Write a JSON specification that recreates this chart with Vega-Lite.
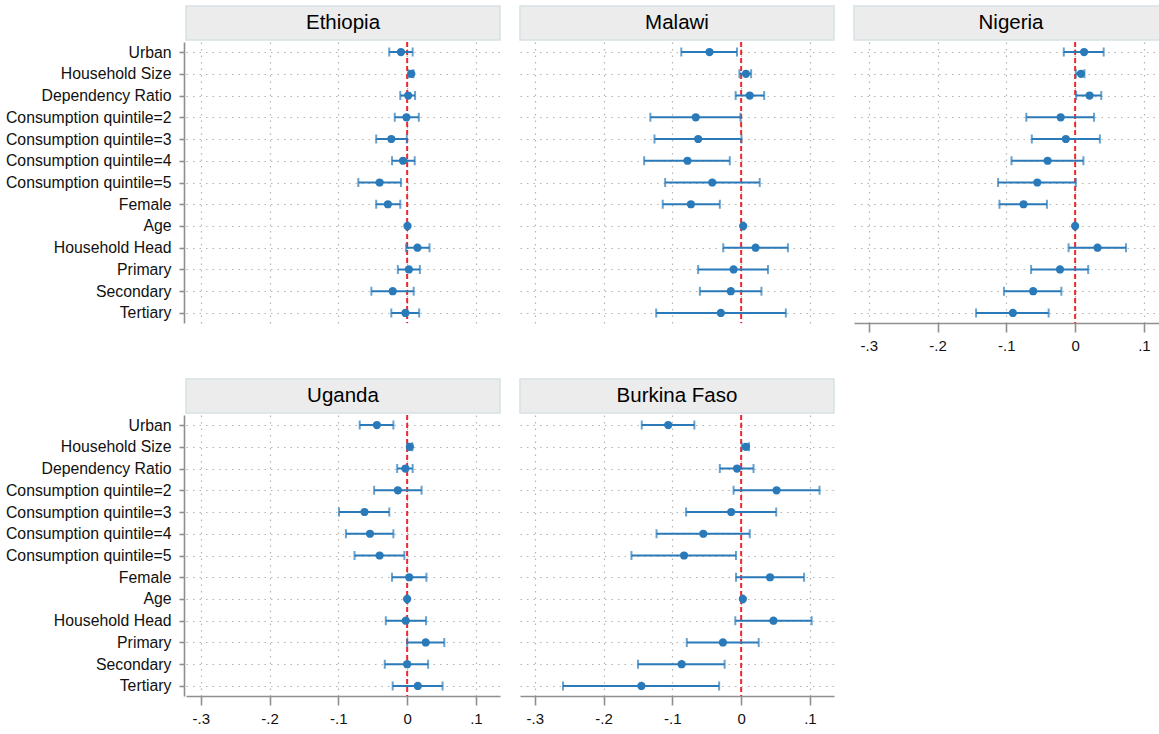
{
  "$schema": "https://vega.github.io/schema/vega-lite/v6.json",
  "background": "white",
  "padding": {"left": 5, "top": 5, "right": 0, "bottom": 0},
  "datasets": {
    "coefs": [
      {"country": "Ethiopia", "var": "Urban", "b": -0.009, "lo": -0.026, "hi": 0.008},
      {"country": "Ethiopia", "var": "Household Size", "b": 0.006, "lo": 0.002, "hi": 0.009},
      {"country": "Ethiopia", "var": "Dependency Ratio", "b": 0.0015, "lo": -0.010, "hi": 0.0115},
      {"country": "Ethiopia", "var": "Consumption quintile=2", "b": -0.001, "lo": -0.018, "hi": 0.017},
      {"country": "Ethiopia", "var": "Consumption quintile=3", "b": -0.023, "lo": -0.045, "hi": -0.0005},
      {"country": "Ethiopia", "var": "Consumption quintile=4", "b": -0.006, "lo": -0.022, "hi": 0.011},
      {"country": "Ethiopia", "var": "Consumption quintile=5", "b": -0.040, "lo": -0.071, "hi": -0.009},
      {"country": "Ethiopia", "var": "Female", "b": -0.028, "lo": -0.045, "hi": -0.010},
      {"country": "Ethiopia", "var": "Age", "b": 0.0005, "lo": -0.0005, "hi": 0.0015},
      {"country": "Ethiopia", "var": "Household Head", "b": 0.015, "lo": -0.0015, "hi": 0.0325},
      {"country": "Ethiopia", "var": "Primary", "b": 0.0025, "lo": -0.0135, "hi": 0.0185},
      {"country": "Ethiopia", "var": "Secondary", "b": -0.021, "lo": -0.052, "hi": 0.0095},
      {"country": "Ethiopia", "var": "Tertiary", "b": -0.0025, "lo": -0.023, "hi": 0.0175},
      {"country": "Malawi", "var": "Urban", "b": -0.046, "lo": -0.087, "hi": -0.006},
      {"country": "Malawi", "var": "Household Size", "b": 0.007, "lo": -0.0025, "hi": 0.0145},
      {"country": "Malawi", "var": "Dependency Ratio", "b": 0.0125, "lo": -0.008, "hi": 0.0335},
      {"country": "Malawi", "var": "Consumption quintile=2", "b": -0.066, "lo": -0.132, "hi": -0.001},
      {"country": "Malawi", "var": "Consumption quintile=3", "b": -0.0625, "lo": -0.126, "hi": 0.0005},
      {"country": "Malawi", "var": "Consumption quintile=4", "b": -0.078, "lo": -0.141, "hi": -0.0165},
      {"country": "Malawi", "var": "Consumption quintile=5", "b": -0.042, "lo": -0.1105, "hi": 0.027},
      {"country": "Malawi", "var": "Female", "b": -0.073, "lo": -0.114, "hi": -0.031},
      {"country": "Malawi", "var": "Age", "b": 0.003, "lo": 0.002, "hi": 0.004},
      {"country": "Malawi", "var": "Household Head", "b": 0.021, "lo": -0.026, "hi": 0.068},
      {"country": "Malawi", "var": "Primary", "b": -0.011, "lo": -0.0625, "hi": 0.039},
      {"country": "Malawi", "var": "Secondary", "b": -0.015, "lo": -0.060, "hi": 0.0295},
      {"country": "Malawi", "var": "Tertiary", "b": -0.0295, "lo": -0.1235, "hi": 0.065},
      {"country": "Nigeria", "var": "Urban", "b": 0.013, "lo": -0.0165, "hi": 0.0415},
      {"country": "Nigeria", "var": "Household Size", "b": 0.0085, "lo": 0.001, "hi": 0.0135},
      {"country": "Nigeria", "var": "Dependency Ratio", "b": 0.021, "lo": 0.0015, "hi": 0.038},
      {"country": "Nigeria", "var": "Consumption quintile=2", "b": -0.021, "lo": -0.071, "hi": 0.0275},
      {"country": "Nigeria", "var": "Consumption quintile=3", "b": -0.0135, "lo": -0.063, "hi": 0.036},
      {"country": "Nigeria", "var": "Consumption quintile=4", "b": -0.040, "lo": -0.0925, "hi": 0.012},
      {"country": "Nigeria", "var": "Consumption quintile=5", "b": -0.055, "lo": -0.112, "hi": 0.001},
      {"country": "Nigeria", "var": "Female", "b": -0.075, "lo": -0.110, "hi": -0.041},
      {"country": "Nigeria", "var": "Age", "b": 0.0, "lo": -0.001, "hi": 0.001},
      {"country": "Nigeria", "var": "Household Head", "b": 0.0325, "lo": -0.0095, "hi": 0.074},
      {"country": "Nigeria", "var": "Primary", "b": -0.022, "lo": -0.064, "hi": 0.019},
      {"country": "Nigeria", "var": "Secondary", "b": -0.061, "lo": -0.1035, "hi": -0.020},
      {"country": "Nigeria", "var": "Tertiary", "b": -0.0905, "lo": -0.144, "hi": -0.0385},
      {"country": "Uganda", "var": "Urban", "b": -0.044, "lo": -0.069, "hi": -0.020},
      {"country": "Uganda", "var": "Household Size", "b": 0.004, "lo": 0.0005, "hi": 0.0075},
      {"country": "Uganda", "var": "Dependency Ratio", "b": -0.0025, "lo": -0.0145, "hi": 0.008},
      {"country": "Uganda", "var": "Consumption quintile=2", "b": -0.0135, "lo": -0.048, "hi": 0.021},
      {"country": "Uganda", "var": "Consumption quintile=3", "b": -0.062, "lo": -0.099, "hi": -0.026},
      {"country": "Uganda", "var": "Consumption quintile=4", "b": -0.054, "lo": -0.089, "hi": -0.020},
      {"country": "Uganda", "var": "Consumption quintile=5", "b": -0.040, "lo": -0.0765, "hi": -0.004},
      {"country": "Uganda", "var": "Female", "b": 0.003, "lo": -0.022, "hi": 0.028},
      {"country": "Uganda", "var": "Age", "b": 0.0, "lo": -0.001, "hi": 0.001},
      {"country": "Uganda", "var": "Household Head", "b": -0.002, "lo": -0.031, "hi": 0.0275},
      {"country": "Uganda", "var": "Primary", "b": 0.027, "lo": 0.0, "hi": 0.054},
      {"country": "Uganda", "var": "Secondary", "b": 0.0, "lo": -0.0325, "hi": 0.0305},
      {"country": "Uganda", "var": "Tertiary", "b": 0.0155, "lo": -0.021, "hi": 0.0515},
      {"country": "Burkina Faso", "var": "Urban", "b": -0.106, "lo": -0.1445, "hi": -0.068},
      {"country": "Burkina Faso", "var": "Household Size", "b": 0.007, "lo": 0.001, "hi": 0.0115},
      {"country": "Burkina Faso", "var": "Dependency Ratio", "b": -0.006, "lo": -0.031, "hi": 0.018},
      {"country": "Burkina Faso", "var": "Consumption quintile=2", "b": 0.0515, "lo": -0.011, "hi": 0.114},
      {"country": "Burkina Faso", "var": "Consumption quintile=3", "b": -0.0145, "lo": -0.080, "hi": 0.051},
      {"country": "Burkina Faso", "var": "Consumption quintile=4", "b": -0.055, "lo": -0.123, "hi": 0.0125},
      {"country": "Burkina Faso", "var": "Consumption quintile=5", "b": -0.083, "lo": -0.1595, "hi": -0.0075},
      {"country": "Burkina Faso", "var": "Female", "b": 0.042, "lo": -0.0075, "hi": 0.0915},
      {"country": "Burkina Faso", "var": "Age", "b": 0.0025, "lo": 0.0015, "hi": 0.0035},
      {"country": "Burkina Faso", "var": "Household Head", "b": 0.047, "lo": -0.0085, "hi": 0.1025},
      {"country": "Burkina Faso", "var": "Primary", "b": -0.0265, "lo": -0.079, "hi": 0.0255},
      {"country": "Burkina Faso", "var": "Secondary", "b": -0.0865, "lo": -0.150, "hi": -0.024},
      {"country": "Burkina Faso", "var": "Tertiary", "b": -0.145, "lo": -0.259, "hi": -0.032}
    ]
  },
  "data": {"name": "coefs"},
  "spacing": 25,
  "vconcat": [
    {
      "spacing": 18,
      "hconcat": [
        {
          "spacing": 0,
          "vconcat": [
            {"width": 314, "height": 34, "view": {"fill": "#ececec", "stroke": "#d6e1e6", "strokeWidth": 1.5},
             "transform": [{"filter": "datum.country === 'Ethiopia' && datum.var === 'Urban'"}],
             "mark": {"type": "text", "fontSize": 20.5, "font": "Liberation Sans", "color": "#000", "baseline": "middle", "align": "center"},
             "encoding": {"text": {"field": "country"}}},
            {"width": 314, "height": 281,
             "transform": [{"filter": "datum.country === 'Ethiopia'"}],
             "layer": [
               {"transform": [{"filter": "datum.var === 'Urban'"}], "mark": {"type": "rule", "color": "#f0282d", "strokeDash": [5, 3], "strokeWidth": 2}, "encoding": {"x": {"datum": 0, "type": "quantitative"}}},
               {"mark": {"type": "rule", "color": "#2a7ab9", "strokeWidth": 2},
                "encoding": {
                  "y": {"field": "var", "type": "nominal", "title": null, "scale": {"type": "point", "padding": 0.46, "domain": ["Urban", "Household Size", "Dependency Ratio", "Consumption quintile=2", "Consumption quintile=3", "Consumption quintile=4", "Consumption quintile=5", "Female", "Age", "Household Head", "Primary", "Secondary", "Tertiary"]},
                        "axis": {"grid": true, "offset": 2, "tickSize": 5, "labelPadding": 8, "labelFontSize": 15.8}},
                  "x": {"field": "lo", "type": "quantitative", "title": null, "scale": {"domain": [-0.3215, 0.135], "nice": false, "zero": false},
                        "axis": {"values": [-0.3, -0.2, -0.1, 0, 0.1], "labels": false, "ticks": false, "domain": false, "grid": true}},
                  "x2": {"field": "hi"}}},
               {"mark": {"type": "tick", "color": "#2a7ab9", "thickness": 2, "size": 9}, "encoding": {"y": {"field": "var", "type": "nominal"}, "x": {"field": "lo", "type": "quantitative"}}},
               {"mark": {"type": "tick", "color": "#2a7ab9", "thickness": 2, "size": 9}, "encoding": {"y": {"field": "var", "type": "nominal"}, "x": {"field": "hi", "type": "quantitative"}}},
               {"mark": {"type": "circle", "color": "#2a7ab9", "opacity": 1, "size": 68}, "encoding": {"y": {"field": "var", "type": "nominal"}, "x": {"field": "b", "type": "quantitative"}}}
             ]}
          ]
        },
        {
          "spacing": 0,
          "vconcat": [
            {"width": 314, "height": 34, "view": {"fill": "#ececec", "stroke": "#d6e1e6", "strokeWidth": 1.5},
             "transform": [{"filter": "datum.country === 'Malawi' && datum.var === 'Urban'"}],
             "mark": {"type": "text", "fontSize": 20.5, "font": "Liberation Sans", "color": "#000", "baseline": "middle", "align": "center"},
             "encoding": {"text": {"field": "country"}}},
            {"width": 314, "height": 281,
             "transform": [{"filter": "datum.country === 'Malawi'"}],
             "layer": [
               {"transform": [{"filter": "datum.var === 'Urban'"}], "mark": {"type": "rule", "color": "#f0282d", "strokeDash": [5, 3], "strokeWidth": 2}, "encoding": {"x": {"datum": 0, "type": "quantitative"}}},
               {"mark": {"type": "rule", "color": "#2a7ab9", "strokeWidth": 2},
                "encoding": {
                  "y": {"field": "var", "type": "nominal", "title": null, "scale": {"type": "point", "padding": 0.46, "domain": ["Urban", "Household Size", "Dependency Ratio", "Consumption quintile=2", "Consumption quintile=3", "Consumption quintile=4", "Consumption quintile=5", "Female", "Age", "Household Head", "Primary", "Secondary", "Tertiary"]},
                        "axis": {"grid": true, "labels": false, "ticks": false, "domain": false}},
                  "x": {"field": "lo", "type": "quantitative", "title": null, "scale": {"domain": [-0.3215, 0.135], "nice": false, "zero": false},
                        "axis": {"values": [-0.3, -0.2, -0.1, 0, 0.1], "labels": false, "ticks": false, "domain": false, "grid": true}},
                  "x2": {"field": "hi"}}},
               {"mark": {"type": "tick", "color": "#2a7ab9", "thickness": 2, "size": 9}, "encoding": {"y": {"field": "var", "type": "nominal"}, "x": {"field": "lo", "type": "quantitative"}}},
               {"mark": {"type": "tick", "color": "#2a7ab9", "thickness": 2, "size": 9}, "encoding": {"y": {"field": "var", "type": "nominal"}, "x": {"field": "hi", "type": "quantitative"}}},
               {"mark": {"type": "circle", "color": "#2a7ab9", "opacity": 1, "size": 68}, "encoding": {"y": {"field": "var", "type": "nominal"}, "x": {"field": "b", "type": "quantitative"}}}
             ]}
          ]
        },
        {
          "spacing": 0,
          "vconcat": [
            {"width": 306, "height": 34, "view": {"fill": "#ececec", "stroke": "#d6e1e6", "strokeWidth": 1.5},
             "transform": [{"filter": "datum.country === 'Nigeria' && datum.var === 'Urban'"}],
             "mark": {"type": "text", "fontSize": 20.5, "font": "Liberation Sans", "color": "#000", "baseline": "middle", "align": "center", "dx": 4},
             "encoding": {"text": {"field": "country"}}},
            {"width": 306, "height": 281,
             "transform": [{"filter": "datum.country === 'Nigeria'"}],
             "layer": [
               {"transform": [{"filter": "datum.var === 'Urban'"}], "mark": {"type": "rule", "color": "#f0282d", "strokeDash": [5, 3], "strokeWidth": 2}, "encoding": {"x": {"datum": 0, "type": "quantitative"}}},
               {"mark": {"type": "rule", "color": "#2a7ab9", "strokeWidth": 2},
                "encoding": {
                  "y": {"field": "var", "type": "nominal", "title": null, "scale": {"type": "point", "padding": 0.46, "domain": ["Urban", "Household Size", "Dependency Ratio", "Consumption quintile=2", "Consumption quintile=3", "Consumption quintile=4", "Consumption quintile=5", "Female", "Age", "Household Head", "Primary", "Secondary", "Tertiary"]},
                        "axis": {"grid": true, "labels": false, "ticks": false, "domain": false}},
                  "x": {"field": "lo", "type": "quantitative", "title": null, "scale": {"domain": [-0.3215, 0.1234], "nice": false, "zero": false},
                        "axis": {"values": [-0.3, -0.2, -0.1, 0, 0.1], "grid": true, "tickSize": 9, "labelPadding": 6, "labelFontSize": 15, "labelExpr": "datum.value < 0 ? '-.' + round(abs(datum.value) * 10) : (datum.value == 0 ? '0' : '.' + round(datum.value * 10))"}},
                  "x2": {"field": "hi"}}},
               {"mark": {"type": "tick", "color": "#2a7ab9", "thickness": 2, "size": 9}, "encoding": {"y": {"field": "var", "type": "nominal"}, "x": {"field": "lo", "type": "quantitative"}}},
               {"mark": {"type": "tick", "color": "#2a7ab9", "thickness": 2, "size": 9}, "encoding": {"y": {"field": "var", "type": "nominal"}, "x": {"field": "hi", "type": "quantitative"}}},
               {"mark": {"type": "circle", "color": "#2a7ab9", "opacity": 1, "size": 68}, "encoding": {"y": {"field": "var", "type": "nominal"}, "x": {"field": "b", "type": "quantitative"}}}
             ]}
          ]
        }
      ]
    },
    {
      "spacing": 18,
      "hconcat": [
        {
          "spacing": 0,
          "vconcat": [
            {"width": 314, "height": 34, "view": {"fill": "#ececec", "stroke": "#d6e1e6", "strokeWidth": 1.5},
             "transform": [{"filter": "datum.country === 'Uganda' && datum.var === 'Urban'"}],
             "mark": {"type": "text", "fontSize": 20.5, "font": "Liberation Sans", "color": "#000", "baseline": "middle", "align": "center"},
             "encoding": {"text": {"field": "country"}}},
            {"width": 314, "height": 281,
             "transform": [{"filter": "datum.country === 'Uganda'"}],
             "layer": [
               {"transform": [{"filter": "datum.var === 'Urban'"}], "mark": {"type": "rule", "color": "#f0282d", "strokeDash": [5, 3], "strokeWidth": 2}, "encoding": {"x": {"datum": 0, "type": "quantitative"}}},
               {"mark": {"type": "rule", "color": "#2a7ab9", "strokeWidth": 2},
                "encoding": {
                  "y": {"field": "var", "type": "nominal", "title": null, "scale": {"type": "point", "padding": 0.46, "domain": ["Urban", "Household Size", "Dependency Ratio", "Consumption quintile=2", "Consumption quintile=3", "Consumption quintile=4", "Consumption quintile=5", "Female", "Age", "Household Head", "Primary", "Secondary", "Tertiary"]},
                        "axis": {"grid": true, "offset": 2, "tickSize": 5, "labelPadding": 8, "labelFontSize": 15.8}},
                  "x": {"field": "lo", "type": "quantitative", "title": null, "scale": {"domain": [-0.3215, 0.135], "nice": false, "zero": false},
                        "axis": {"values": [-0.3, -0.2, -0.1, 0, 0.1], "grid": true, "tickSize": 9, "labelPadding": 6, "labelFontSize": 15, "labelExpr": "datum.value < 0 ? '-.' + round(abs(datum.value) * 10) : (datum.value == 0 ? '0' : '.' + round(datum.value * 10))"}},
                  "x2": {"field": "hi"}}},
               {"mark": {"type": "tick", "color": "#2a7ab9", "thickness": 2, "size": 9}, "encoding": {"y": {"field": "var", "type": "nominal"}, "x": {"field": "lo", "type": "quantitative"}}},
               {"mark": {"type": "tick", "color": "#2a7ab9", "thickness": 2, "size": 9}, "encoding": {"y": {"field": "var", "type": "nominal"}, "x": {"field": "hi", "type": "quantitative"}}},
               {"mark": {"type": "circle", "color": "#2a7ab9", "opacity": 1, "size": 68}, "encoding": {"y": {"field": "var", "type": "nominal"}, "x": {"field": "b", "type": "quantitative"}}}
             ]}
          ]
        },
        {
          "spacing": 0,
          "vconcat": [
            {"width": 314, "height": 34, "view": {"fill": "#ececec", "stroke": "#d6e1e6", "strokeWidth": 1.5},
             "transform": [{"filter": "datum.country === 'Burkina Faso' && datum.var === 'Urban'"}],
             "mark": {"type": "text", "fontSize": 20.5, "font": "Liberation Sans", "color": "#000", "baseline": "middle", "align": "center"},
             "encoding": {"text": {"field": "country"}}},
            {"width": 314, "height": 281,
             "transform": [{"filter": "datum.country === 'Burkina Faso'"}],
             "layer": [
               {"transform": [{"filter": "datum.var === 'Urban'"}], "mark": {"type": "rule", "color": "#f0282d", "strokeDash": [5, 3], "strokeWidth": 2}, "encoding": {"x": {"datum": 0, "type": "quantitative"}}},
               {"mark": {"type": "rule", "color": "#2a7ab9", "strokeWidth": 2},
                "encoding": {
                  "y": {"field": "var", "type": "nominal", "title": null, "scale": {"type": "point", "padding": 0.46, "domain": ["Urban", "Household Size", "Dependency Ratio", "Consumption quintile=2", "Consumption quintile=3", "Consumption quintile=4", "Consumption quintile=5", "Female", "Age", "Household Head", "Primary", "Secondary", "Tertiary"]},
                        "axis": {"grid": true, "labels": false, "ticks": false, "domain": false}},
                  "x": {"field": "lo", "type": "quantitative", "title": null, "scale": {"domain": [-0.3215, 0.135], "nice": false, "zero": false},
                        "axis": {"values": [-0.3, -0.2, -0.1, 0, 0.1], "grid": true, "tickSize": 9, "labelPadding": 6, "labelFontSize": 15, "labelExpr": "datum.value < 0 ? '-.' + round(abs(datum.value) * 10) : (datum.value == 0 ? '0' : '.' + round(datum.value * 10))"}},
                  "x2": {"field": "hi"}}},
               {"mark": {"type": "tick", "color": "#2a7ab9", "thickness": 2, "size": 9}, "encoding": {"y": {"field": "var", "type": "nominal"}, "x": {"field": "lo", "type": "quantitative"}}},
               {"mark": {"type": "tick", "color": "#2a7ab9", "thickness": 2, "size": 9}, "encoding": {"y": {"field": "var", "type": "nominal"}, "x": {"field": "hi", "type": "quantitative"}}},
               {"mark": {"type": "circle", "color": "#2a7ab9", "opacity": 1, "size": 68}, "encoding": {"y": {"field": "var", "type": "nominal"}, "x": {"field": "b", "type": "quantitative"}}}
             ]}
          ]
        }
      ]
    }
  ],
  "config": {
    "view": {"stroke": null},
    "axis": {
      "gridDash": [1.5, 5],
      "gridColor": "#b4b4b4",
      "gridWidth": 1.2,
      "labelFont": "Liberation Sans",
      "labelColor": "#111111",
      "domainColor": "#8f8f8f",
      "domainWidth": 1.6,
      "tickColor": "#8f8f8f",
      "tickWidth": 1.6
    }
  }
}
